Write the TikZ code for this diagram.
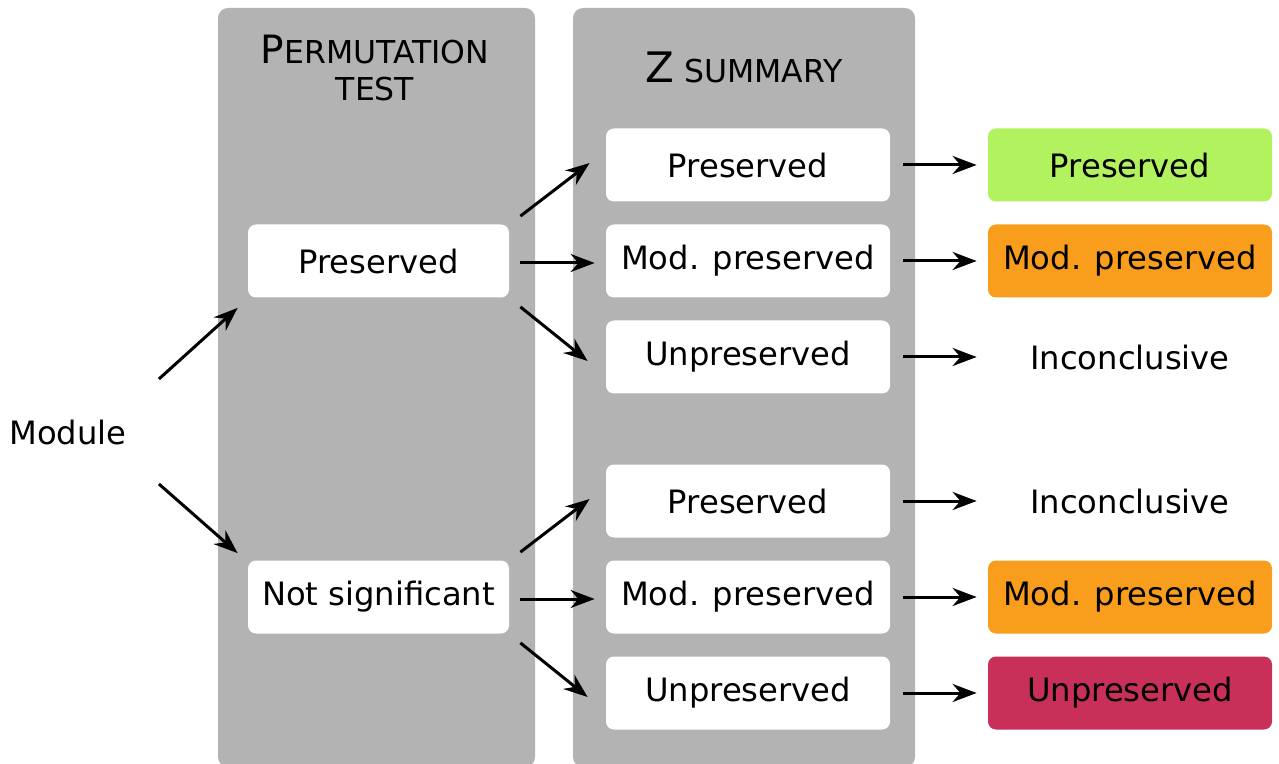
\documentclass[tikz,border=0pt]{standalone}
\usepackage{fontspec}
\setmainfont{DejaVu Sans}
\usetikzlibrary{arrows.meta}

\definecolor{panelgray}{HTML}{B3B3B3}
\definecolor{okgreen}{HTML}{B2F25E}
\definecolor{modorange}{HTML}{F99D1C}
\definecolor{lossred}{HTML}{C8305A}

\newcommand{\lblfont}{\fontsize{16.1}{19}\selectfont}
\newcommand{\capfont}{\fontsize{15.75}{18}\selectfont}
\newcommand{\initfont}{\fontsize{19.5}{22}\selectfont}

\begin{document}
\begin{tikzpicture}[x=0.5pt,y=-0.5pt,
    panel/.style={fill=panelgray,rounded corners=5pt},
    box/.style={fill=white,rounded corners=4pt,minimum width=142pt,
      minimum height=36.5pt,inner sep=0pt,font=\lblfont},
    arr/.style={-{Stealth[length=12pt,width=9pt]},line width=1.5pt}]
    \useasboundingbox (0,0) rectangle (1279,764);

    % background columns
    \fill[panel] (218,8) rectangle (535,767);
    \fill[panel] (573,8) rectangle (915,767);
    \node[anchor=base,font=\capfont] (permhead) at (375,64) {{\initfont P}ERMUTATION};
    \node[anchor=base,font=\capfont] (permhead2) at (375,101) {TEST};
    \node[anchor=base,font=\capfont] (zhead) at (744,83) {{\fontsize{21}{24}\selectfont Z} SUMMARY};

    \node[inner sep=0pt,font=\lblfont] (mod) at (68,432) {Module};
    \node[box,minimum width=130.5pt] (pres) at (378.5,261) {Preserved};
    \node[box,minimum width=130.5pt] (nsig) at (378.5,597) {Not significant};

    \foreach [count=\i] \yy/\txt in {165/Preserved, 261/Mod. preserved, 357/Unpreserved,
        501/Preserved, 597/Mod. preserved, 693/Unpreserved} {
      \node[box] (z\i) at (748,\yy) {\txt};
    }
    \foreach [count=\i] \yy/\clr/\txt in {165/okgreen/Preserved, 261/modorange/Mod. preserved,
        357/white/Inconclusive, 501/white/Inconclusive, 597/modorange/Mod. preserved,
        693/lossred/Unpreserved} {
      \node[box,fill=\clr] (out\i) at (1130,\yy) {\txt};
      \draw[arr] ([shift={(13,0)}]z\i.east) -- ([shift={(-11,0)}]out\i.west);
    }

    \draw[arr] ([shift={(32,-53)}]mod.east) -- ([shift={(-10,10)}]pres.south west);
    \draw[arr] ([shift={(32,52)}]mod.east) -- ([shift={(-10,-7)}]nsig.north west);

    \foreach \src/\a/\b/\c in {pres/1/2/3, nsig/4/5/6} {
      \draw[arr] ([shift={(11,-8)}]\src.north east) -- ([shift={(-16,-2)}]z\a.west);
      \draw[arr] ([shift={(11,2)}]\src.east) -- ([shift={(-11,2)}]z\b.west);
      \draw[arr] ([shift={(11,9)}]\src.south east) -- ([shift={(-18,4)}]z\c.west);
    }
\end{tikzpicture}
\end{document}
